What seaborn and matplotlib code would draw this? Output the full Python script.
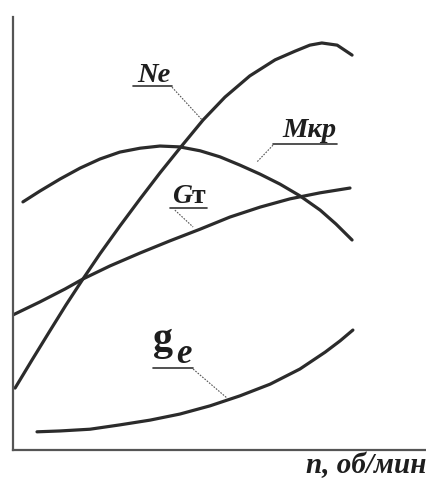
import numpy as np
import pandas as pd
import matplotlib
matplotlib.use('Agg')
import matplotlib.pyplot as plt
import seaborn as sns

# engine speed characteristic, relative units (0..100 on both axes)
ne_n = [0.5, 4.6, 8.9, 12.8, 16.9, 21.0, 25.8, 30.7, 35.5, 40.3, 45.9, 51.2, 57.2,
        63.3, 68.1, 71.7, 74.6, 78.3, 81.9]
ne_val = [14.3, 20.8, 27.5, 33.5, 39.5, 45.3, 51.7, 58.0, 64.0, 69.7, 76.2, 81.5, 86.4,
          90.1, 92.1, 93.5, 94.0, 93.5, 91.2]

mkr_n = [2.4, 6.5, 11.4, 16.2, 21.0, 25.8, 30.7, 35.5, 40.3, 45.2, 50.0, 54.8, 59.7,
         64.5, 69.3, 74.2, 78.0, 81.9]
mkr_val = [57.3, 59.8, 62.6, 65.1, 67.2, 68.8, 69.7, 70.2, 70.0, 69.1, 67.7, 65.8, 63.7,
           61.4, 58.7, 55.4, 52.2, 48.5]

gt_n = [0.0, 6.5, 12.6, 16.9, 23.4, 30.7, 37.9, 45.2, 52.4, 59.7, 66.9, 74.2, 81.4]
gt_val = [31.2, 34.2, 37.2, 39.5, 42.5, 45.5, 48.3, 51.0, 53.8, 56.1, 58.0, 59.4, 60.5]

ge_n = [5.8, 11.4, 18.6, 25.8, 33.1, 40.3, 47.6, 54.8, 62.1, 69.3, 75.4, 79.0, 82.1]
ge_val = [4.2, 4.4, 4.8, 5.8, 6.9, 8.3, 10.2, 12.5, 15.2, 18.7, 22.6, 25.2, 27.7]

# label text, underline (x0, x1, y), leader line ((x0, y0), (x1, y1))
labels = ['Ne', 'Mкр']
label_pos = [(30.0, 84.9), (65.0, 72.4)]
underlines = [(29.0, 38.4, 84.1), (62.8, 78.3, 70.7), (37.9, 46.9, 55.9), (33.8, 43.5, 18.9)]
leaders = [((38.4, 83.8), (45.7, 76.2)), ((62.8, 70.4), (58.9, 66.5)),
           ((39.1, 55.4), (43.5, 51.5)), ((43.5, 18.7), (51.7, 12.0))]

sns.set_style('white')
plt.rcParams['font.family'] = ['Liberation Serif', 'DejaVu Serif']

fig = plt.figure(figsize=(4.27, 4.78), dpi=100)
ax = fig.add_axes([13 / 427, 28 / 478, 414 / 427, 433 / 478])
ax.set_xlim(0, 100)
ax.set_ylim(0, 100)

curve_color = '#2b2b2b'
for xs, ys in [(ne_n, ne_val), (mkr_n, mkr_val), (gt_n, gt_val), (ge_n, ge_val)]:
    df = pd.DataFrame({'n': xs, 'v': ys})
    sns.lineplot(data=df, x='n', y='v', ax=ax, color=curve_color, lw=2.3,
                 sort=False, estimator=None, solid_capstyle='round')

txt_color = '#1e1e1e'
for txt, (x, y) in zip(labels, label_pos):
    ax.text(x, y, txt, fontsize=20.5, style='italic', fontweight='bold',
            color=txt_color, va='baseline', ha='left')

# G_т label: italic G, upright т (italic т looks like m)
ax.text(38.4, 57.0, 'G', fontsize=20, style='italic', fontweight='bold',
        color=txt_color, va='baseline')
ax.text(43.2, 57.0, 'т', fontsize=20, fontweight='bold', color=txt_color, va='baseline')

# g_e label, upright g with italic subscript e
ax.text(33.8, 23.1, 'g', fontsize=29, fontweight='bold', color=txt_color, va='baseline')
ax.text(39.4, 20.1, 'e', fontsize=25, style='italic', fontweight='bold', color=txt_color,
        va='baseline')

for x0, x1, y in underlines:
    ax.plot([x0, x1], [y, y], color='#333333', lw=1.2)
for (x0, y0), (x1, y1) in leaders:
    ax.plot([x0, x1], [y0, y1], color='#555555', lw=0.8, ls=(0, (1.5, 1.2)))

for side in ['top', 'right']:
    ax.spines[side].set_visible(False)
for side in ['left', 'bottom']:
    ax.spines[side].set_color('#555555')
    ax.spines[side].set_linewidth(1.6)
ax.set_xticks([])
ax.set_yticks([])
ax.set_xlabel('')
ax.set_ylabel('')

fig.text(0.998, 5 / 478, 'n, об/мин', fontsize=21, style='italic', fontweight='bold',
         color=txt_color, ha='right', va='baseline')

fig.savefig('out.png', dpi=100)
